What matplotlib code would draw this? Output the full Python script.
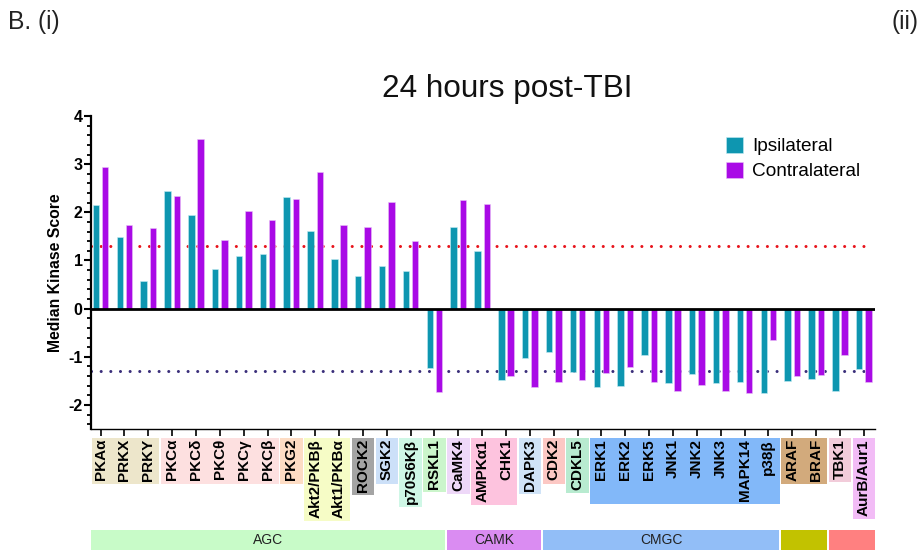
import matplotlib
matplotlib.use('Agg')
import matplotlib.pyplot as plt
from matplotlib.patches import Rectangle
from matplotlib.transforms import blended_transform_factory
from matplotlib.ticker import MultipleLocator
import numpy as np

plt.rcParams['font.family'] = ['Liberation Sans', 'DejaVu Sans']
plt.rcParams['axes.unicode_minus'] = False

# ---------------- data ----------------
kinases = ['PKAα', 'PRKX', 'PRKY', 'PKCα', 'PKCδ', 'PKCθ', 'PKCγ', 'PKCβ', 'PKG2',
           'Akt2/PKBβ', 'Akt1/PKBα', 'ROCK2', 'SGK2', 'p70S6Kβ', 'RSKL1',
           'CaMK4', 'AMPKα1', 'CHK1', 'DAPK3',
           'CDK2', 'CDKL5', 'ERK1', 'ERK2', 'ERK5', 'JNK1', 'JNK2', 'JNK3', 'MAPK14', 'p38β',
           'ARAF', 'BRAF', 'TBK1', 'AurB/Aur1']
ipsilateral = [2.15, 1.49, 0.57, 2.45, 1.94, 0.83, 1.09, 1.14, 2.32, 1.62, 1.03, 0.68, 0.89, 0.78, -1.23,
               1.70, 1.20, -1.48, -1.03,
               -0.90, -1.32, -1.62, -1.61, -0.97, -1.55, -1.35, -1.55, -1.53, -1.75,
               -1.50, -1.46, -1.72, -1.26]
contralateral = [2.94, 1.74, 1.67, 2.33, 3.53, 1.43, 2.03, 1.83, 2.28, 2.84, 1.74, 1.70, 2.21, 1.41, -1.74,
                 2.25, 2.17, -1.40, -1.62,
                 -1.52, -1.48, -1.33, -1.21, -1.52, -1.72, -1.59, -1.72, -1.75, -0.66,
                 -1.39, -1.37, -0.97, -1.52]
subfamily = ['PKA', 'PKA', 'PKA', 'PKC', 'PKC', 'PKC', 'PKC', 'PKC', 'PKG',
             'Akt', 'Akt', 'ROCK', 'SGK', 'S6K', 'RSK',
             'CaMK', 'CAMKL', 'CAMKL', 'DAPK',
             'CDK', 'CDKL', 'MAPK', 'MAPK', 'MAPK', 'MAPK', 'MAPK', 'MAPK', 'MAPK', 'MAPK',
             'RAF', 'RAF', 'IKK', 'AUR']
family = ['AGC'] * 15 + ['CAMK'] * 4 + ['CMGC'] * 10 + ['TKL'] * 2 + ['Other'] * 2
family_labels = ['AGC', 'CAMK', 'CMGC', '', '']
threshold = 1.3

# ---------------- styles ----------------
sub_colors = {'PKA': '#EDE6CB', 'PKC': '#FDE0E0', 'PKG': '#FDDCC4', 'Akt': '#F6FCC6',
              'ROCK': '#A4A4A4', 'SGK': '#CCE0F8', 'S6K': '#CFF7E6', 'RSK': '#CBF5CB',
              'CaMK': '#EED8F8', 'CAMKL': '#FDC3DE', 'DAPK': '#D0E3F7', 'CDK': '#FCC8C4',
              'CDKL': '#B8EBD0', 'MAPK': '#82B8F9', 'RAF': '#D2AA7C', 'IKK': '#F2CCDA',
              'AUR': '#F2BCF6'}
fam_colors = {'AGC': '#C8FBC8', 'CAMK': '#DA8CF2', 'CMGC': '#92BEF7', 'TKL': '#C2C200', 'Other': '#FF8080'}
C_IPSI = '#0E96B0'
C_CONTRA = '#A90AE6'

W, H = 922, 554
fig = plt.figure(figsize=(W / 100, H / 100), dpi=100)
ax_left, ax_right, ax_top, ax_bot = 91, 875, 116, 429
ax = fig.add_axes([ax_left / W, 1 - ax_bot / H, (ax_right - ax_left) / W, (ax_bot - ax_top) / H])

n = len(kinases)
x = np.arange(n)
bw, off = 0.27, 0.195
ax.bar(x - off, ipsilateral, bw, color=C_IPSI, edgecolor='#C4ECF2', linewidth=0.4, zorder=3,
       label='Ipsilateral')
ax.bar(x + off, contralateral, bw, color=C_CONTRA, edgecolor='#E8C2F7', linewidth=0.4, zorder=3,
       label='Contralateral')

ax.axhline(0, color='black', lw=2.0, zorder=4)
for yv, col in [(threshold, '#E8141C'), (-threshold, '#3A2E7A')]:
    ax.plot([-0.38, n - 0.9], [yv, yv], color=col, lw=2.2, ls=(0, (0.01, 3.15)),
            dash_capstyle='round', zorder=2)

ax.set_xlim(-0.4, 32.47)
ax.set_ylim(-2.5, 4)
for s in ['top', 'right']:
    ax.spines[s].set_visible(False)
ax.spines['left'].set_linewidth(1.6)
ax.spines['bottom'].set_linewidth(1.0)

ax.yaxis.set_major_locator(MultipleLocator(1))
ax.yaxis.set_minor_locator(MultipleLocator(0.2))
ax.tick_params(axis='y', which='major', length=5.3, width=1.5, pad=0.8, labelsize=11.5)
ax.tick_params(axis='y', which='minor', length=2.9, width=1.3)
for lab in ax.get_yticklabels():
    lab.set_fontweight('bold')

ax.set_xticks(x)
ax.set_xticklabels(kinases, rotation=90, fontweight='bold', fontsize=11)
ax.tick_params(axis='x', which='major', length=4.7, width=1.2, pad=2.5)

ax.set_ylabel('Median Kinase Score', fontweight='bold', fontsize=11.3)
ax.yaxis.set_label_coords(-0.036, 0.5)

ax.legend(loc='upper left', bbox_to_anchor=(726 / W, 1 - 137 / H), bbox_transform=fig.transFigure,
          frameon=False, fontsize=13.7, handlelength=0.88, handleheight=0.88, handletextpad=0.5,
          labelspacing=0.35, borderpad=0, borderaxespad=0)

fig.text(507 / W, 1 - 97.3 / H, '24 hours post-TBI', ha='center', va='baseline', fontsize=22.7,
         color='#111111')
fig.text(8 / W, 1 - 29.3 / H, 'B. (i)', ha='left', va='baseline', fontsize=17.7, color='#222222')
fig.text(918 / W, 1 - 29.3 / H, '(ii)', ha='right', va='baseline', fontsize=17.7, color='#222222')

# ---------------- background boxes behind tick labels ----------------
fig.canvas.draw()
renderer = fig.canvas.get_renderer()
labels = ax.get_xticklabels()
trans = blended_transform_factory(ax.transData, fig.transFigure)


def spans(seq):
    out = []
    start = 0
    for i in range(1, len(seq) + 1):
        if i == len(seq) or seq[i] != seq[start]:
            out.append((seq[start], start, i - 1))
            start = i
    return out


box_top = H - 437.5
for name, s, e in spans(subfamily):
    y0 = min(labels[k].get_window_extent(renderer).y0 for k in range(s, e + 1)) - 3
    x0 = max(s - 0.47, -0.36)
    x1 = e + 0.47
    fig.add_artist(Rectangle((x0, y0 / H), x1 - x0, (box_top - y0) / H, transform=trans,
                             facecolor=sub_colors[name], edgecolor='none', zorder=-1, clip_on=False))

fam_y0, fam_h = (H - 550) / H, 20 / H
fam_spans = spans(family)
for (name, s, e), lab in zip(fam_spans, family_labels):
    x0 = max(s - 0.46, -0.4)
    x1 = min(e + 0.46, 32.47)
    fig.add_artist(Rectangle((x0, fam_y0), x1 - x0, fam_h, transform=trans,
                             facecolor=fam_colors[name], edgecolor='none', zorder=-1, clip_on=False))
    if lab:
        fig.text((x0 + x1) / 2, fam_y0 + fam_h / 2, lab, transform=trans, ha='center', va='center',
                 fontsize=10, color='#222222')

fig.savefig('out.png', dpi=100)
